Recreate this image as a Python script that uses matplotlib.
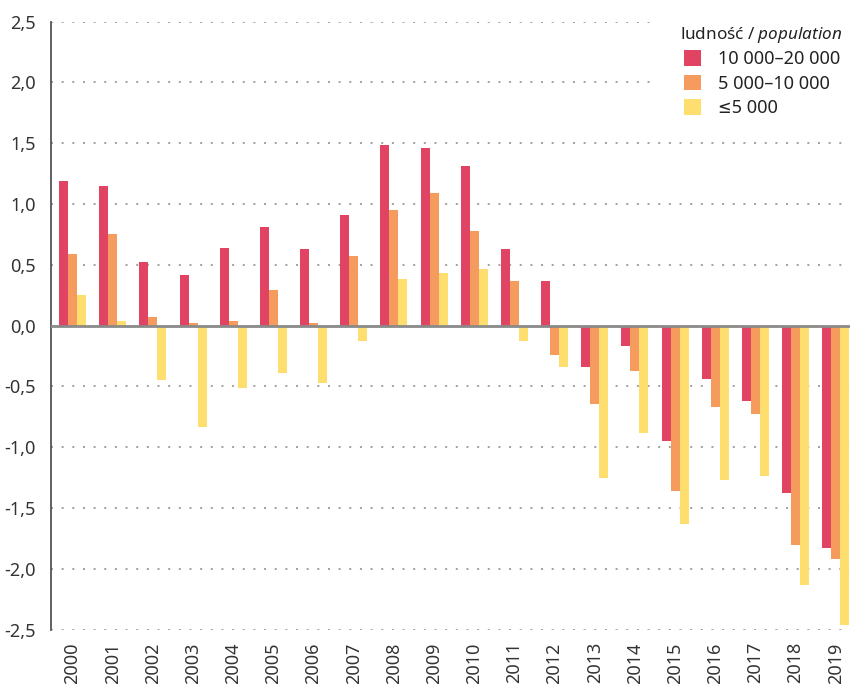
import matplotlib
matplotlib.use("Agg")
import matplotlib.pyplot as plt
from matplotlib.patches import Patch, Rectangle
import numpy as np

years = [str(y) for y in range(2000, 2020)]

pop_10_20k = [1.19, 1.15, 0.52, 0.42, 0.64, 0.81, 0.63, 0.91, 1.49, 1.46,
              1.31, 0.63, 0.37, -0.34, -0.17, -0.95, -0.44, -0.62, -1.38, -1.83]
pop_5_10k = [0.59, 0.75, 0.07, 0.02, 0.04, 0.29, 0.02, 0.57, 0.95, 1.09,
             0.78, 0.37, -0.24, -0.64, -0.37, -1.36, -0.67, -0.73, -1.80, -1.92]
pop_le5k = [0.25, 0.04, -0.45, -0.83, -0.51, -0.39, -0.47, -0.13, 0.38, 0.43,
            0.47, -0.13, -0.34, -1.25, -0.88, -1.63, -1.27, -1.24, -2.13, -2.46]

series_labels = ["10 000\u201320 000", "5 000\u201310 000", "\u22645 000"]
legend_title = "ludność / $\\mathit{population}$"
y_ticks = [-2.5, -2.0, -1.5, -1.0, -0.5, 0.0, 0.5, 1.0, 1.5, 2.0, 2.5]

colors = ["#E04462", "#F49B5D", "#FEDE6E"]

plt.rcParams["font.family"] = ["Noto Sans", "DejaVu Sans"]
plt.rcParams["font.stretch"] = "condensed"
plt.rcParams["mathtext.fontset"] = "custom"
plt.rcParams["mathtext.it"] = "Noto Sans:italic"
plt.rcParams["mathtext.rm"] = "Noto Sans"

W, H = 850, 684
fig = plt.figure(figsize=(W / 100, H / 100), dpi=100)
ax = fig.add_axes([0.06, 0.0794, 0.94, 0.8889])

x = np.arange(len(years))
w = 0.224
for k, (vals, c) in enumerate(zip([pop_10_20k, pop_5_10k, pop_le5k], colors)):
    ax.bar(x + (k - 1) * w, vals, width=w, color=c, zorder=3, linewidth=0)

ax.set_ylim(-2.5, 2.5)
ax.set_xlim(-0.535, 19.355)
ax.set_yticks(y_ticks)
ax.set_yticklabels([f"{v:.1f}".replace(".", ",") for v in y_ticks],
                   fontsize=13, color="#333333")
ax.set_xticks(x)
ax.set_xticklabels(years, rotation=90, fontsize=13, color="#333333")
ax.tick_params(axis="both", length=0)
ax.tick_params(axis="y", pad=11)
ax.tick_params(axis="x", pad=9)

for v in y_ticks:
    if v != 0:
        ax.axhline(v, color="#9a9a9a", linewidth=1.3, linestyle=(0, (1.1, 4.8)),
                   zorder=1)
ax.axhline(0, color="#8a8a8a", linewidth=2.0, zorder=4)

for side in ["top", "right", "bottom"]:
    ax.spines[side].set_visible(False)
ax.spines["left"].set_color("#555555")
ax.spines["left"].set_linewidth(1.3)

# white panel behind the legend, hiding the gridlines there
ax.add_patch(Rectangle((657 / W, 1 - 130 / H), 1 - 657 / W, 130 / H,
                       transform=fig.transFigure, facecolor="white",
                       edgecolor="none", zorder=2, clip_on=False))

handles = [Patch(facecolor=c, edgecolor="none") for c in colors]
leg = fig.legend(handles, series_labels,
                 loc="upper left", bbox_to_anchor=(675 / W, 1 - 41 / H),
                 bbox_transform=fig.transFigure, borderaxespad=0,
                 fontsize=13, frameon=False,
                 handlelength=0.95, handleheight=0.95, handletextpad=0.95,
                 labelspacing=0.36, borderpad=0.5)
for t in leg.get_texts():
    t.set_color("#222222")

fig.text(680 / W, 1 - 35 / H, legend_title, fontsize=12.3, color="#222222",
         ha="left", va="center")

fig.savefig("out.png", dpi=100)
